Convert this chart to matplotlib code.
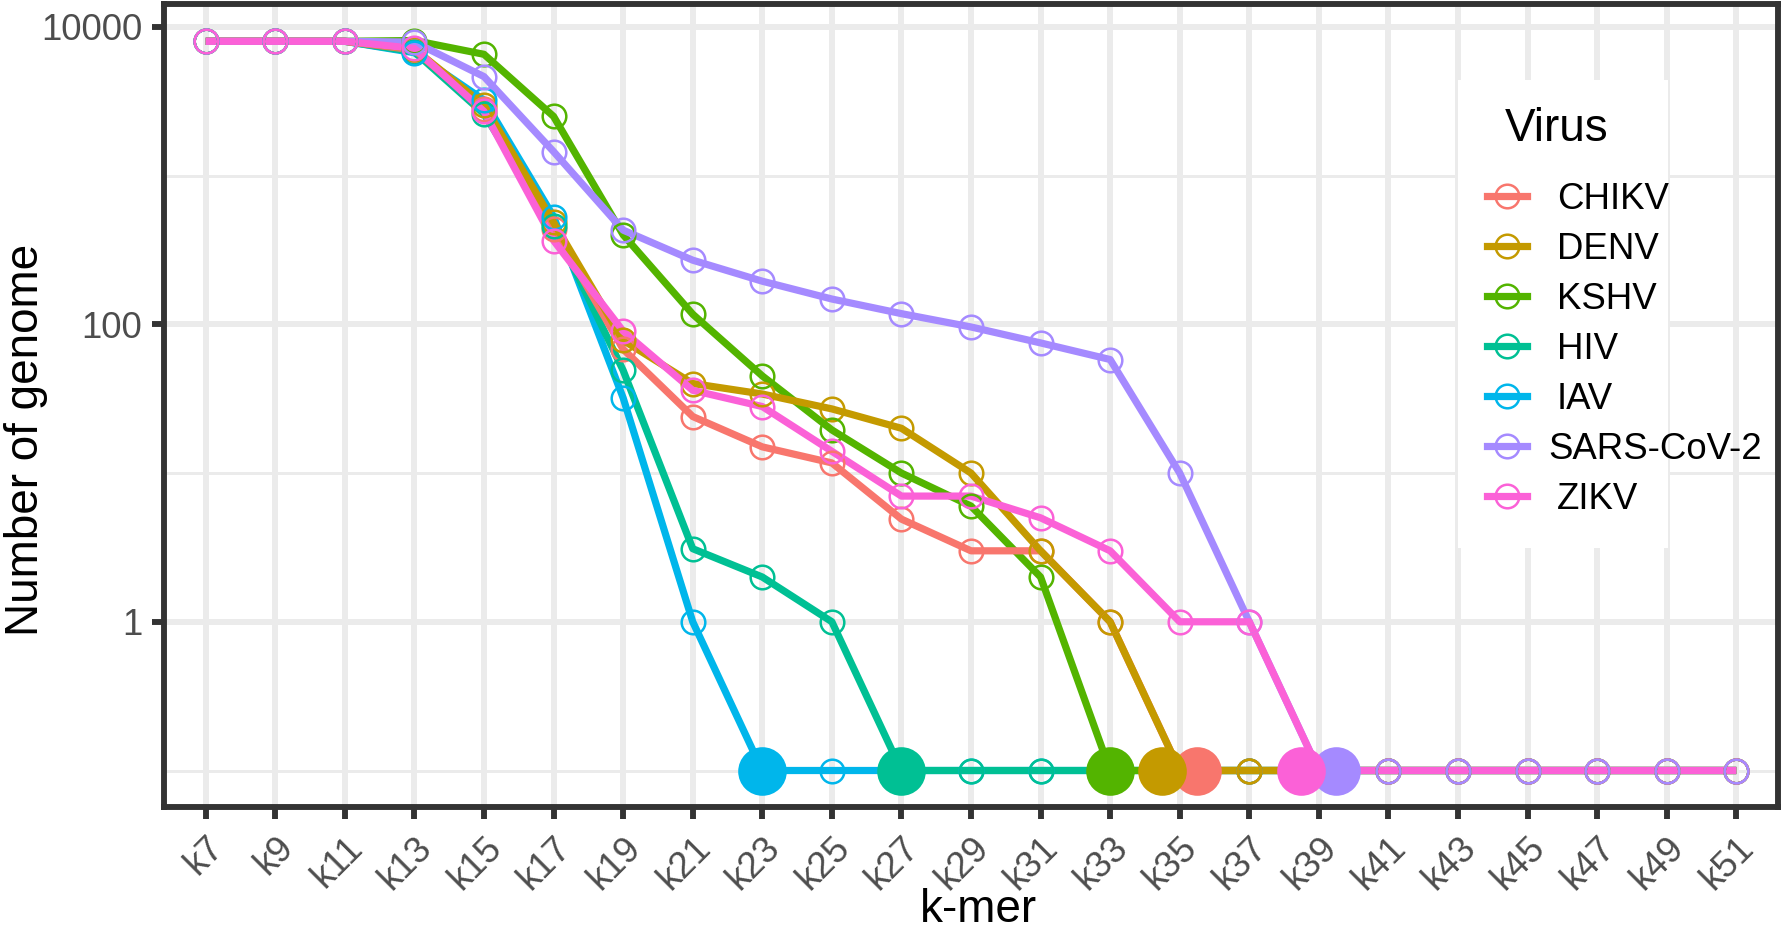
import matplotlib
matplotlib.use("Agg")
import matplotlib.pyplot as plt
from matplotlib.lines import Line2D
from matplotlib.patches import Rectangle
from matplotlib.ticker import FixedLocator, FixedFormatter, NullFormatter
import numpy as np

plt.rcParams['font.family'] = ['Liberation Sans', 'DejaVu Sans']

# ---------------- data ----------------
kmers = list(range(7, 52, 2))
kmer_labels = [f"k{k}" for k in kmers]

viruses = ["CHIKV", "DENV", "KSHV", "HIV", "IAV", "SARS-CoV-2", "ZIKV"]
colors = ["#F8766D", "#C49A00", "#53B400", "#00C094", "#00B6EB", "#A58AFF", "#FB61D7"]

CHIKV = [8000, 8000, 8000, 7000, 2800, 440, 68, 24, 15, 11.7, 4.9, 3, 3, 1,
         0, 0, 0, 0, 0, 0, 0, 0, 0]
DENV = [8000, 8000, 8000, 7100, 2980, 485, 78, 40, 34, 27, 20, 10, 3, 1,
        0, 0, 0, 0, 0, 0, 0, 0, 0]
KSHV = [8000, 8000, 8000, 8100, 6540, 2500, 400, 117, 45, 19.5, 10, 6, 2, 0,
        0, 0, 0, 0, 0, 0, 0, 0, 0]
HIV = [8000, 8000, 8000, 6800, 2600, 460, 49, 3.1, 2, 1, 0, 0, 0, 0,
       0, 0, 0, 0, 0, 0, 0, 0, 0]
IAV = [8000, 8000, 8000, 6700, 3220, 530, 32, 1, 0, 0, 0, 0, 0, 0,
       0, 0, 0, 0, 0, 0, 0, 0, 0]
SARS = [8000, 8000, 8000, 7900, 4630, 1450, 430, 270, 195, 148, 118, 96, 75, 58,
        10, 1, 0, 0, 0, 0, 0, 0, 0]
ZIKV = [8000, 8000, 8000, 7160, 2700, 366, 90, 36, 28, 14, 7, 7, 5, 3,
        1, 1, 0, 0, 0, 0, 0, 0, 0]
series = [CHIKV, DENV, KSHV, HIV, IAV, SARS, ZIKV]

ZERO_LEVEL = 0.1          # zero counts drawn on the bottom row
y_breaks = [1, 100, 10000]
y_minor = [0.1, 10, 1000]

# stacking order of the zero-row (later = on top)
line_stack = ["IAV", "HIV", "KSHV", "CHIKV", "DENV", "SARS-CoV-2", "ZIKV"]
zero_marker_stack = ["IAV", "HIV", "KSHV", "CHIKV", "DENV", "ZIKV", "SARS-CoV-2"]

# ---------------- figure ----------------
W, H = 1783, 933
fig = plt.figure(figsize=(W / 100, H / 100), dpi=100)
L, R, T, B = 164, 1778, 4, 807
ax = fig.add_axes([L / W, 1 - B / H, (R - L) / W, (B - T) / H])

x = np.array(kmers, dtype=float)
LW = 5.2
MS = 17
MEW = 1.8
BIG = 35

# first-zero positions and dodge
first_zero = {}
for name, vals in zip(viruses, series):
    idx = next(i for i, v in enumerate(vals) if v == 0)
    first_zero[name] = idx
groups = {}
for name in viruses:
    groups.setdefault(first_zero[name], []).append(name)
dodge = {}
for idx, names in groups.items():
    order = names[::-1]
    n = len(order)
    for j, nm in enumerate(order):
        dodge[nm] = (j - (n - 1) / 2) * 1.0

for name, vals, col in zip(viruses, series, colors):
    v = np.array(vals, dtype=float)
    y = np.where(v > 0, v, ZERO_LEVEL)
    lz = 2 + line_stack.index(name) * 0.01
    ax.plot(x, y, color=col, lw=LW, solid_joinstyle='round',
            solid_capstyle='butt', zorder=lz)
    fz = first_zero[name]
    nz = v > 0
    ax.plot(x[nz], y[nz], ls='none', marker='o', ms=MS, mfc='none', mec=col,
            mew=MEW, zorder=3 + viruses.index(name) * 0.01)
    zmask = (~nz).copy()
    zmask[fz] = False
    ax.plot(x[zmask], y[zmask], ls='none', marker='o', ms=MS, mfc='none',
            mec=col, mew=MEW, zorder=3.5 + zero_marker_stack.index(name) * 0.01)
    ax.plot([x[fz] + dodge[name]], [ZERO_LEVEL], ls='none', marker='o',
            ms=BIG, mfc=col, mec=col, mew=0,
            zorder=4 + line_stack.index(name) * 0.01)

# ---------------- axes ----------------
ax.set_yscale('log')
allv = [v for s in series for v in s if v > 0] + [ZERO_LEVEL]
lo, hi = np.log10(min(allv)), np.log10(max(allv))
pad = 0.05 * (hi - lo)
ax.set_ylim(10 ** (lo - pad), 10 ** (hi + pad))
ax.set_xlim(kmers[0] - 1.2, kmers[-1] + 1.2)

ax.yaxis.set_major_locator(FixedLocator(y_breaks))
ax.yaxis.set_major_formatter(FixedFormatter([str(b) for b in y_breaks]))
ax.yaxis.set_minor_locator(FixedLocator(y_minor))
ax.yaxis.set_minor_formatter(NullFormatter())
ax.set_xticks(kmers)
ax.set_xticklabels(kmer_labels, rotation=45, ha='right', va='top',
                   rotation_mode='anchor')

grid_c = "#EBEBEB"
ax.set_axisbelow(True)
ax.grid(True, which='major', axis='both', color=grid_c, lw=4.25, zorder=0)
ax.grid(True, which='minor', axis='y', color=grid_c, lw=2.13, zorder=0)

for s in ax.spines.values():
    s.set_color("#333333")
    s.set_linewidth(4.25)
    s.set_zorder(6)

ax.tick_params(axis='both', which='major', length=8.5, width=4.25,
               color="#333333", labelcolor="#4D4D4D", labelsize=26.4)
ax.tick_params(axis='y', which='major', pad=7)
ax.tick_params(axis='x', which='major', pad=8)
ax.tick_params(axis='y', which='minor', length=0)

ax.set_ylabel("Number of genome", fontsize=33, color='black', va='baseline')
ax.yaxis.set_label_coords((38 - L) / (R - L), (B - 440) / (B - T))
ax.set_xlabel("k-mer", fontsize=33, color='black', va='bottom')
ax.xaxis.set_label_coords((978 - L) / (R - L), (B - 932) / (B - T))

# ---------------- legend ----------------
bx0, bx1, by0, by1 = 1458, 1668, 80, 548
fig.patches.append(Rectangle((bx0 / W, 1 - by1 / H), (bx1 - bx0) / W,
                             (by1 - by0) / H, transform=fig.transFigure,
                             facecolor='white', edgecolor='none', zorder=10))
fig.text(1505 / W, 1 - 129 / H, "Virus", fontsize=33, color='black',
         ha='left', va='center', zorder=12)
handles = [Line2D([], [], color=c, lw=LW, marker='o', ms=MS, mfc='none',
                  mec=c, mew=MEW) for c in colors]
leg = fig.legend(handles, viruses, loc='upper left',
                 bbox_to_anchor=(1487 / W, 1 - 182 / H),
                 bbox_transform=fig.transFigure, frameon=False,
                 fontsize=26.4, handlelength=1.09, handletextpad=0.82,
                 labelspacing=0.41, borderpad=0, borderaxespad=0)
leg.set_zorder(12)
leg.get_texts()[viruses.index("SARS-CoV-2")].set_x(-9)

fig.savefig("out.png", dpi=100)
